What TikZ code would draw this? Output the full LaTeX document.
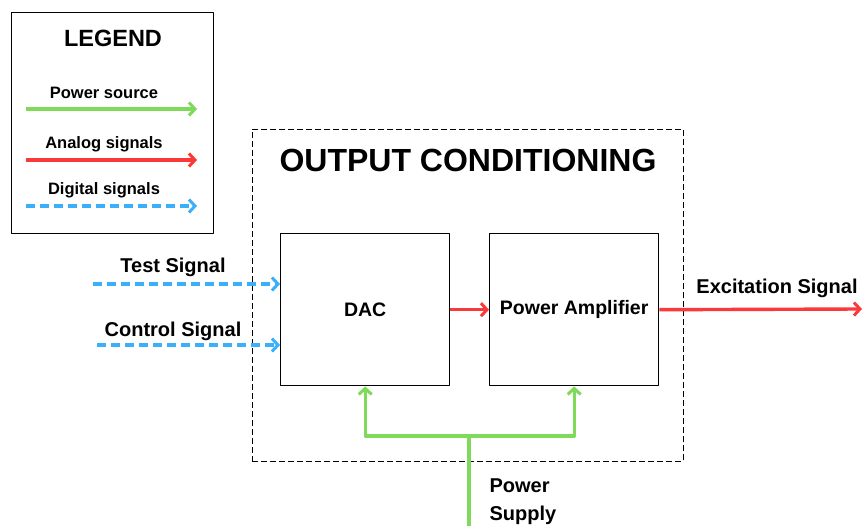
\documentclass[tikz,border=0pt]{standalone}
\usepackage{fontspec}
\setmainfont{Liberation Sans}
\usetikzlibrary{arrows.meta,positioning}
\definecolor{pwrgreen}{RGB}{126,218,88}
\definecolor{sigred}{RGB}{250,58,58}
\definecolor{digblue}{RGB}{58,176,250}
\tikzset{
  barb/.tip={Straight Barb[length=6pt,width=13pt,line width=3pt]},
  power/.style={pwrgreen,line width=3.4pt,-barb},
  powerline/.style={pwrgreen,line width=3.4pt},
  analog/.style={sigred,line width=3.4pt,-barb},
  digital/.style={digblue,line width=3.4pt,dash pattern=on 9pt off 5pt,-barb},
  blk/.style={draw,line width=1.4pt,minimum width=169pt,minimum height=152pt,anchor=north west,font=\bfseries\fontsize{19.5}{23}\selectfont},
  lbl/.style={font=\bfseries\fontsize{20}{24}\selectfont},
  lgd/.style={font=\bfseries\fontsize{16.5}{19}\selectfont},
}
\begin{document}
\begin{tikzpicture}[x=1pt,y=-1pt,line join=round]
    \useasboundingbox (0,0) rectangle (864,526);
    % legend
    \node[draw,line width=1.4pt,minimum width=202pt,minimum height=221pt,anchor=north west] (legend) at (11,12) {};
    \node[font=\bfseries\fontsize{23.5}{27}\selectfont] (lgdtitle) at (113,38) {LEGEND};
    \foreach \nom/\y/\sty/\txt in {pw/93/power/Power source,an/144/analog/Analog signals,dg/190/digital/Digital signals}{
        \node[lgd] (\nom) at (104,\y) {\txt};
        \coordinate (\nom a) at (26,\y+16);
        \coordinate (\nom b) at (197,\y+16);
        \draw[\sty] (\nom a)--(\nom b);
    }
    % output conditioning block
    \node[draw,line width=0.9pt,dash pattern=on 6pt off 3pt,minimum width=431pt,minimum height=332pt,anchor=north west] (oc) at (252,129) {};
    \node[font=\bfseries\fontsize{32}{38}\selectfont] (octitle) at (468,160) {OUTPUT CONDITIONING};
    \node[blk] (dac) at (280,233) {DAC};
    \node[blk] (amp) at (489,233) {Power Amplifier};
    \draw[analog] (dac.east)--(amp.east -| amp.west);
    % inputs
    \coordinate (ts) at (93,284);
    \coordinate (cs) at (97,345);
    \node[lbl] (tslbl) at (173,267) {Test Signal};
    \node[lbl] (cslbl) at (173,331) {Control Signal};
    \draw[digital] (ts)--(ts -| dac.west);
    \draw[digital] (cs)--(cs -| dac.west);
    % output
    \coordinate (exc) at (862,309);
    \node[lbl] (exclbl) at (777,288) {Excitation Signal};
    \draw[analog] (amp.east)--(exc);
    % power supply
    \coordinate (ps) at (469,526);
    \coordinate (split) at (469,436);
    \node[lbl,align=left,anchor=north west,font=\bfseries\fontsize{20}{28}\selectfont] (pslbl) at (486,475) {Power\\Supply};
    \draw[powerline] (ps)--(split);
    \draw[power] (split)-|(dac.south);
    \draw[power] (split)-|(amp.south);
\end{tikzpicture}
\end{document}
